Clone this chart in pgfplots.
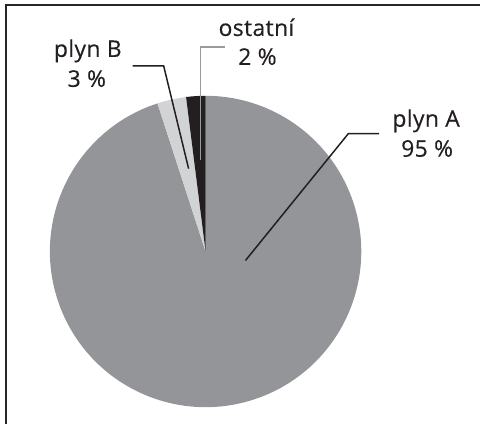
\documentclass[border=0pt]{standalone}
\usepackage{fontspec}
\setmainfont{Open Sans}[LetterSpace=1.5, FakeBold=0.3]
\usepackage{pgfplots}
\usepackage{pgfplotstable}
\pgfplotsset{compat=1.18}
\definecolor{pA}{HTML}{939598}
\definecolor{pB}{HTML}{D1D3D4}
\definecolor{pC}{HTML}{231F20}
\definecolor{lineGray}{HTML}{9A9A9A}
\pgfplotstableread{
label value
A 95
B 3
C 2
}\piedata
\begin{document}
\begin{tikzpicture}
\pgfplotstablegetelem{0}{value}\of\piedata \edef\vA{\pgfplotsretval}
\pgfplotstablegetelem{1}{value}\of\piedata \edef\vB{\pgfplotsretval}
\pgfplotstablegetelem{2}{value}\of\piedata \edef\vC{\pgfplotsretval}
\pgfmathsetmacro{\aC}{90+3.6*\vC}
\pgfmathsetmacro{\aB}{\aC+3.6*\vB}
\pgfmathsetmacro{\aA}{\aB+3.6*\vA}
\begin{axis}[scale only axis, width=481pt, height=425pt,
  xmin=0, xmax=481, ymin=0, ymax=425, hide axis, clip=false]
\path (axis cs:0,0) rectangle (axis cs:481,425);
% pie slices
\fill[pA] (axis cs:206,173) -- ++(\aB:156pt) arc[start angle=\aB, end angle=\aA, radius=156pt] -- cycle;
\fill[pB] (axis cs:206,173) -- ++(\aC:156pt) arc[start angle=\aC, end angle=\aB, radius=156pt] -- cycle;
\fill[pC] (axis cs:206,173) -- ++(90:156pt) arc[start angle=90, end angle=\aC, radius=156pt] -- cycle;
% leader lines
\draw[line width=1.5pt, pC] (axis cs:246,164) -- (axis cs:349,291) -- (axis cs:380,291);
\draw[line width=1.5pt, pC] (axis cs:189,256) -- (axis cs:164,359) -- (axis cs:133,359);
\draw[line width=1.5pt, lineGray] (axis cs:201,265) -- (axis cs:201,378) -- (axis cs:225,378);
% labels
\begin{scope}[every node/.style={anchor=base, text=pC, inner sep=0pt, font=\fontsize{23}{23}\selectfont}]
\node at (axis cs:427,298) {plyn A};
\node at (axis cs:428,268) {95 \%};
\node at (axis cs:88,368) {plyn B};
\node at (axis cs:87,338) {3 \%};
\node at (axis cs:257,389) {ostatní};
\node at (axis cs:258,360) {2 \%};
\end{scope}
% frame
\draw[line width=2pt, black!85] (axis cs:6.5,0) -- (axis cs:6.5,420) -- (axis cs:481,420);
\end{axis}
\end{tikzpicture}
\end{document}
